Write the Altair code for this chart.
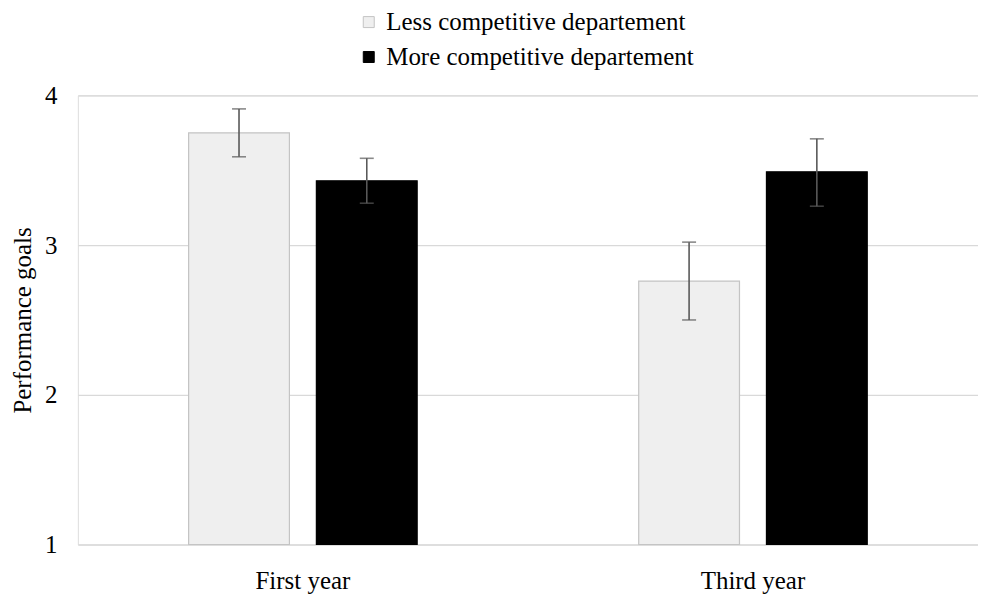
import altair as alt
import pandas as pd

years = ["First year", "First year", "Third year", "Third year"]
groups = ["Less competitive departement", "More competitive departement",
          "Less competitive departement", "More competitive departement"]
means = [3.75, 3.43, 2.76, 3.49]
lows = [3.59, 3.28, 2.50, 3.26]
highs = [3.91, 3.58, 3.02, 3.71]

df = pd.DataFrame({"year": years, "group": groups, "mean": means, "low": lows, "high": highs})

group_order = ["Less competitive departement", "More competitive departement"]
font = "Liberation Serif"
fs = 25

x = alt.X("year:N", title=None, scale=alt.Scale(paddingInner=0, paddingOuter=0),
          axis=alt.Axis(labelAngle=0, ticks=False, domain=False, labelFont=font,
                        labelFontSize=fs, labelColor="black", labelPadding=24))
xo = alt.XOffset("group:N", sort=group_order,
                 scale=alt.Scale(paddingInner=0.211, paddingOuter=0.867))

bars = alt.Chart(df).mark_bar(strokeWidth=1.2).encode(
    x=x,
    xOffset=xo,
    y=alt.Y("mean:Q", title="Performance goals",
            scale=alt.Scale(domain=[1, 4], nice=False, zero=False),
            axis=alt.Axis(values=[1, 2, 3, 4], format="d", ticks=False, domain=False,
                          gridColor="#d9d9d9", gridWidth=1.3, labelFont=font,
                          labelFontSize=fs, labelColor="black", labelPadding=21,
                          titleFont=font, titleFontSize=fs, titleFontWeight="normal",
                          titleColor="black", titlePadding=9)),
    y2=alt.datum(1),
    fill=alt.Color("group:N", sort=group_order,
                   scale=alt.Scale(domain=group_order, range=["#efefef", "#000000"]),
                   legend=alt.Legend(title=None, orient="none", legendX=279, legendY=-86,
                                     padding=0, direction="vertical", labelFont=font,
                                     labelFontSize=fs, labelColor="black", symbolType="square",
                                     symbolSize=121, symbolStrokeWidth=1,
                                     symbolStrokeColor="#bdbdbd", rowPadding=9,
                                     labelOffset=5, labelLimit=0)),
    stroke=alt.Stroke("group:N", sort=group_order,
                      scale=alt.Scale(domain=group_order, range=["#c4c4c4", "#000000"]),
                      legend=None),
)

rules = alt.Chart(df).mark_rule(color="#595959", strokeWidth=1.6).encode(
    x=alt.X("year:N"), xOffset=xo, y="low:Q", y2="high:Q")

caps_lo = alt.Chart(df).mark_tick(color="#595959", thickness=1.6, size=14, orient="horizontal").encode(
    x=alt.X("year:N"), xOffset=xo, y="low:Q")
caps_hi = alt.Chart(df).mark_tick(color="#595959", thickness=1.6, size=14, orient="horizontal").encode(
    x=alt.X("year:N"), xOffset=xo, y="high:Q")

chart = alt.layer(bars, rules, caps_lo, caps_hi).properties(
    width=902, height=450,
    autosize=alt.AutoSizeParams(type="none"),
    padding={"left": 70, "top": 87, "right": 0, "bottom": 54},
).configure_view(stroke=None).configure(background="white")

chart.save("out.html", embed_options={"renderer": "svg", "actions": False})
